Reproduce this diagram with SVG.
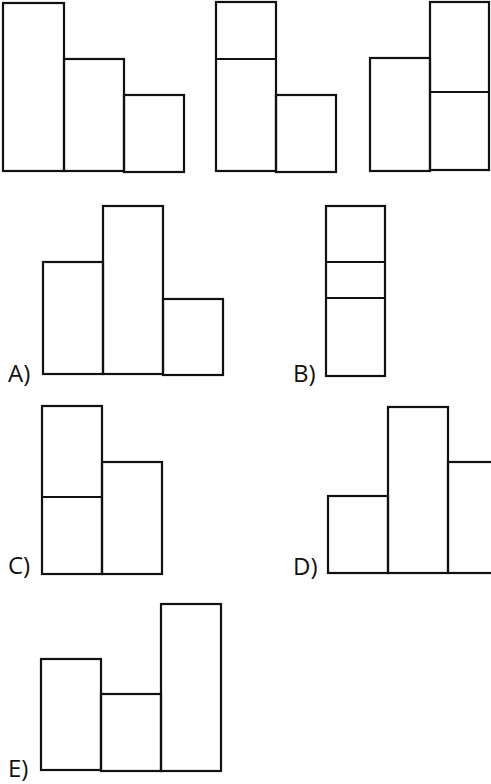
<svg xmlns="http://www.w3.org/2000/svg" width="491" height="784" viewBox="0 0 491 784">
<style>
.b{fill:none;stroke:#111;stroke-width:2.2}
.d{stroke:#111;stroke-width:2.2}
.l{font-family:"Open Sans","Liberation Sans",sans-serif;font-size:24px;fill:#111}
</style>
<rect width="491" height="784" fill="#fff"/>
<g id="fig1">
<rect class="b" x="3" y="3" width="61" height="168"/>
<rect class="b" x="64" y="59" width="60" height="112"/>
<rect class="b" x="124" y="95" width="60" height="77"/>
</g>
<g id="fig2">
<rect class="b" x="216" y="2" width="60" height="169"/>
<line class="d" x1="216" y1="59" x2="276" y2="59"/>
<rect class="b" x="276" y="95" width="60" height="77"/>
</g>
<g id="fig3">
<rect class="b" x="370" y="58" width="60" height="113"/>
<rect class="b" x="430" y="2" width="59" height="168"/>
<line class="d" x1="430" y1="92" x2="489" y2="92"/>
</g>
<g id="optA">
<rect class="b" x="43" y="262" width="60" height="112"/>
<rect class="b" x="103" y="206" width="60" height="168"/>
<rect class="b" x="163" y="299" width="60" height="76"/>
<text class="l" x="8" y="382">A)</text>
</g>
<g id="optB">
<rect class="b" x="326" y="206" width="59" height="170"/>
<line class="d" x1="326" y1="262" x2="385" y2="262"/>
<line class="d" x1="326" y1="298" x2="385" y2="298"/>
<text class="l" x="293" y="382">B)</text>
</g>
<g id="optC">
<rect class="b" x="42" y="406" width="60" height="168"/>
<line class="d" x1="42" y1="497" x2="102" y2="497"/>
<rect class="b" x="102" y="462" width="60" height="112"/>
<text class="l" x="8" y="574">C)</text>
</g>
<g id="optD">
<rect class="b" x="328" y="496" width="60" height="77"/>
<rect class="b" x="388" y="407" width="60" height="166"/>
<rect class="b" x="448" y="462" width="60" height="111"/>
<text class="l" x="293" y="575">D)</text>
</g>
<g id="optE">
<rect class="b" x="41" y="659" width="60" height="111"/>
<rect class="b" x="101" y="694" width="60" height="77"/>
<rect class="b" x="161" y="604" width="60" height="167"/>
<text class="l" x="8" y="777">E)</text>
</g>
</svg>
